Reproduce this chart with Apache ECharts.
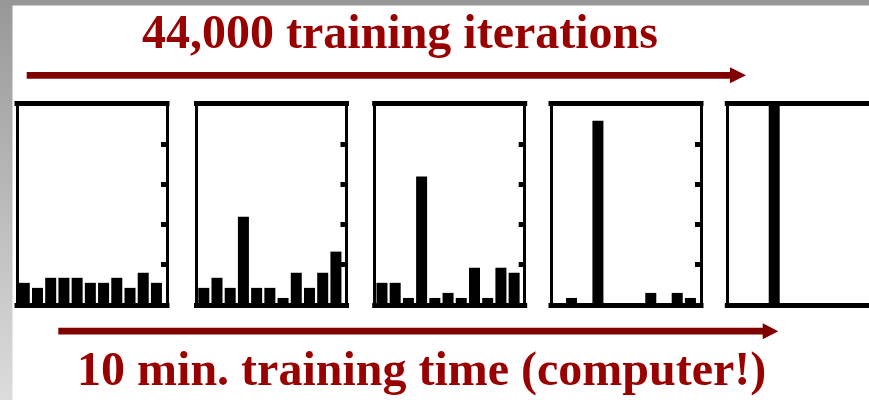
<!DOCTYPE html>
<html>
<head>
<meta charset="utf-8">
<script src="https://cdn.jsdelivr.net/npm/echarts@6.0.0/dist/echarts.min.js"></script>
<style>
  html, body { margin: 0; padding: 0; background: #fff; }
  #chart { width: 869px; height: 400px; }
</style>
</head>
<body>
<div id="chart"></div>
<script>
// ---- data ----
const bins = ['1', '2', '3', '4', '5', '6', '7', '8', '9', '10', '11'];
const panel1 = [4.4, 3.4, 5.4, 5.4, 5.4, 4.4, 4.4, 5.4, 3.4, 6.4, 4.4];
const panel2 = [3.4, 5.4, 3.4, 17.5, 3.4, 3.4, 1.4, 6.4, 3.4, 6.4, 10.6];
const panel3 = [4.4, 4.4, 1.4, 25.5, 1.4, 2.4, 1.4, 7.4, 1.4, 7.4, 6.4];
const panel4 = [0, 1.4, 0, 36.6, 0, 0, 0, 2.4, 0, 2.4, 1.4];
const panel5 = [0, 0, 0, 40, 0, 0, 0, 0, 0, 0, 0];
const yMax = 40;
const yStep = 8;
const topLabel = '44,000 training iterations';
const bottomLabel = '10 min. training time (computer!)';

// ---- layout ----
const panels = [panel1, panel2, panel3, panel4, panel5];
const panelLeft = [17, 196.5, 374.7, 551, 727.3];
const gridTop = 103.5, gridHeight = 201.5, gridWidth = 150;
const xMin = -0.55, xMax = 10.8;

const grids = [], xAxes = [], yAxes = [], series = [];
panels.forEach((vals, k) => {
  grids.push({ left: panelLeft[k], top: gridTop, width: gridWidth, height: gridHeight,
    containLabel: false, outerBoundsMode: 'none' });
  ['bottom', 'top'].forEach(pos => {
    xAxes.push({
      gridIndex: k, type: 'value', min: xMin, max: xMax, position: pos,
      axisLine: { show: true, onZero: false, lineStyle: { color: '#000', width: 5, cap: 'square' } },
      axisTick: { show: false }, axisLabel: { show: false }, splitLine: { show: false }
    });
  });
  yAxes.push({
    gridIndex: k, type: 'value', min: 0, max: yMax, interval: yStep, position: 'left',
    axisLine: { show: true, onZero: false, lineStyle: { color: '#000', width: 3, cap: 'square' } },
    axisTick: { show: false }, axisLabel: { show: false }, splitLine: { show: false }
  });
  yAxes.push({
    gridIndex: k, type: 'value', min: 0, max: yMax, interval: yStep, position: 'right',
    axisLine: { show: true, onZero: false, lineStyle: { color: '#000', width: 3, cap: 'square' } },
    axisTick: { show: true, inside: true, length: 6, lineStyle: { color: '#000', width: 5 } },
    axisLabel: { show: false }, splitLine: { show: false }
  });
  series.push({
    type: 'bar',
    xAxisIndex: 2 * k, yAxisIndex: 2 * k,
    barWidth: 11,
    itemStyle: { color: '#000' },
    data: vals.map((v, i) => [bins.indexOf(bins[i]), v]),
    silent: true
  });
});

function arrow(x0, x1, tip, cy, half, headHalf) {
  return {
    type: 'polygon', silent: true,
    shape: { points: [
      [x0, cy - half], [x1, cy - half], [x1, cy - headHalf], [tip, cy],
      [x1, cy + headHalf], [x1, cy + half], [x0, cy + half]
    ] },
    style: { fill: '#800000' }
  };
}

const chart = echarts.init(document.getElementById('chart'), null, { renderer: 'canvas' });
chart.setOption({
  animation: false,
  backgroundColor: '#ffffff',
  graphic: [
    { type: 'rect', silent: true, shape: { x: 0, y: 0, width: 12.5, height: 400 },
      style: { fill: new echarts.graphic.LinearGradient(0, 0, 0, 1, [
        { offset: 0, color: '#989898' }, { offset: 1, color: '#dcdcdc' }]) } },
    { type: 'rect', silent: true, shape: { x: 0, y: 0, width: 869, height: 5.5 },
      style: { fill: '#989898' } },
    arrow(26.7, 730, 746, 75.3, 3.4, 8),
    arrow(58.3, 762.7, 778.3, 331.2, 3.4, 8),
    { type: 'text', silent: true, x: 400, y: 36,
      style: { text: topLabel, fill: '#990000', font: 'bold 48px "Liberation Serif"',
        align: 'center', verticalAlign: 'middle', textAlign: 'center', textVerticalAlign: 'middle' } },
    { type: 'text', silent: true, x: 421.7, y: 373,
      style: { text: bottomLabel, fill: '#990000', font: 'bold 48px "Liberation Serif"',
        align: 'center', verticalAlign: 'middle', textAlign: 'center', textVerticalAlign: 'middle' } }
  ],
  grid: grids,
  xAxis: xAxes,
  yAxis: yAxes,
  series: series
});
</script>
</body>
</html>
